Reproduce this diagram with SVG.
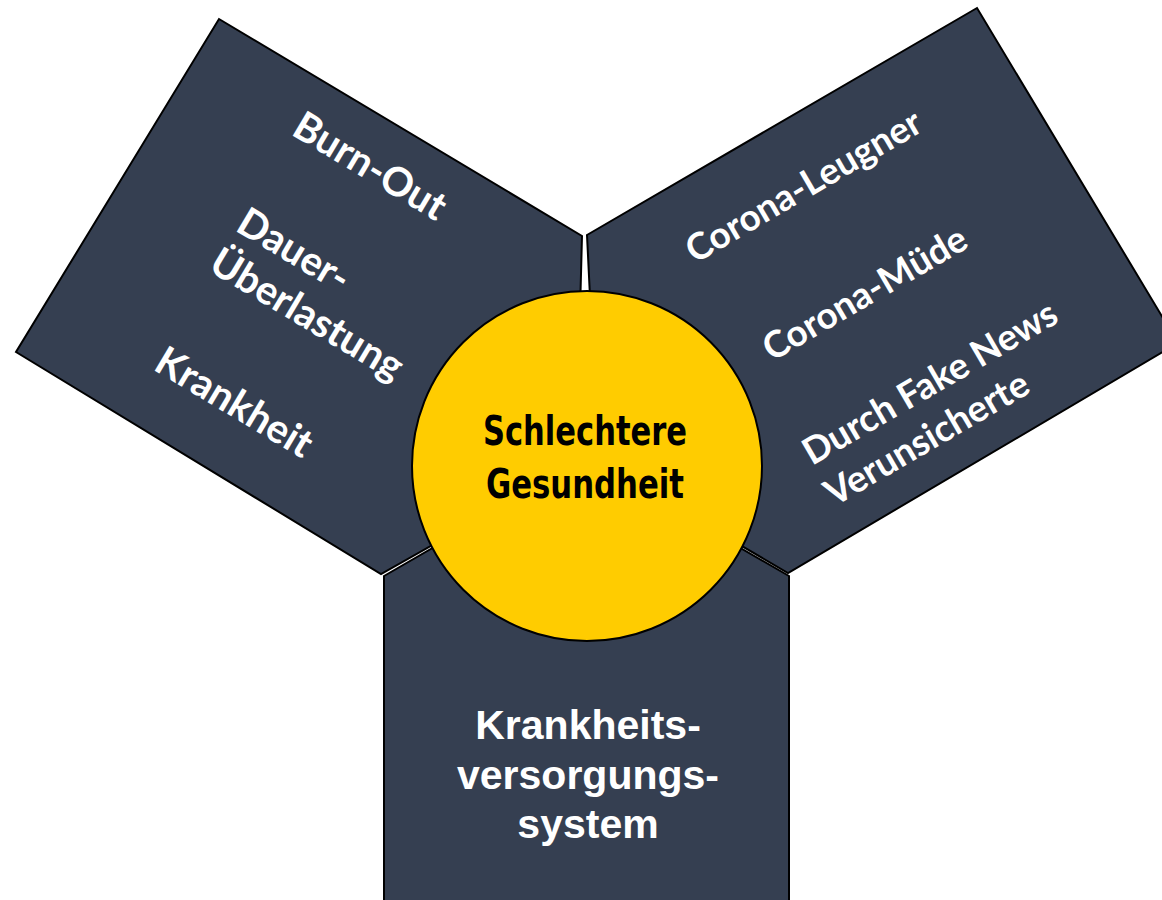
<svg xmlns="http://www.w3.org/2000/svg" width="1162" height="900" viewBox="0 0 1162 900">
<style>
.pent{fill:#353F51;stroke:#000;stroke-width:2;stroke-linejoin:miter}
.side{font-family:Lato,"Open Sans",sans-serif;font-weight:700;font-size:40px;fill:#fff}
.side2{font-family:Lato,"Open Sans",sans-serif;font-weight:700;font-size:37px;fill:#fff}
.bot{font-family:"Liberation Sans",Arial,sans-serif;font-weight:700;font-size:41px;fill:#fff;text-anchor:middle}
.ctr{font-family:"Liberation Sans Narrow","DejaVu Sans Condensed","DejaVu Sans",sans-serif;font-weight:700;font-size:41px;fill:#000;text-anchor:middle}
</style>
<rect width="1162" height="900" fill="#fff"/>
<g id="connectors"></g>
<g id="node-left">
<polygon class="pent" points="219,19 582,236 576,464 381,574 16,352"/>
<text class="side" transform="translate(290,134) rotate(30.9)">Burn-Out</text>
<text class="side" transform="translate(234,230) rotate(30.9)">Dauer-</text>
<text class="side" transform="translate(207,270) rotate(30.9)">Überlastung</text>
<text class="side" transform="translate(152,369) rotate(30.9)">Krankheit</text>
</g>
<g id="node-right">
<polygon class="pent" points="587,235 977,8 1178,343 788,573 598,462"/>
<text class="side2" transform="translate(695,264) rotate(-30.2)">Corona-Leugner</text>
<text class="side2" transform="translate(772,362) rotate(-30.2)">Corona-Müde</text>
<text class="side2" transform="translate(812,466) rotate(-30.2)">Durch Fake News</text>
<text class="side2" transform="translate(834,507) rotate(-30.2)">Verunsicherte</text>
</g>
<g id="node-bottom">
<polygon class="pent" points="384,576 586.5,459 789,576 789,906 384,906"/>
<text class="bot" x="588" y="739">Krankheits-</text>
<text class="bot" x="588" y="789">versorgungs-</text>
<text class="bot" x="588" y="838">system</text>
</g>
<g id="node-center">
<circle cx="587" cy="466" r="175" fill="#FFCC00" stroke="#000" stroke-width="2"/>
<text class="ctr" x="585" y="445" textLength="204" lengthAdjust="spacingAndGlyphs">Schlechtere</text>
<text class="ctr" x="585" y="498" textLength="198" lengthAdjust="spacingAndGlyphs">Gesundheit</text>
</g>
</svg>
